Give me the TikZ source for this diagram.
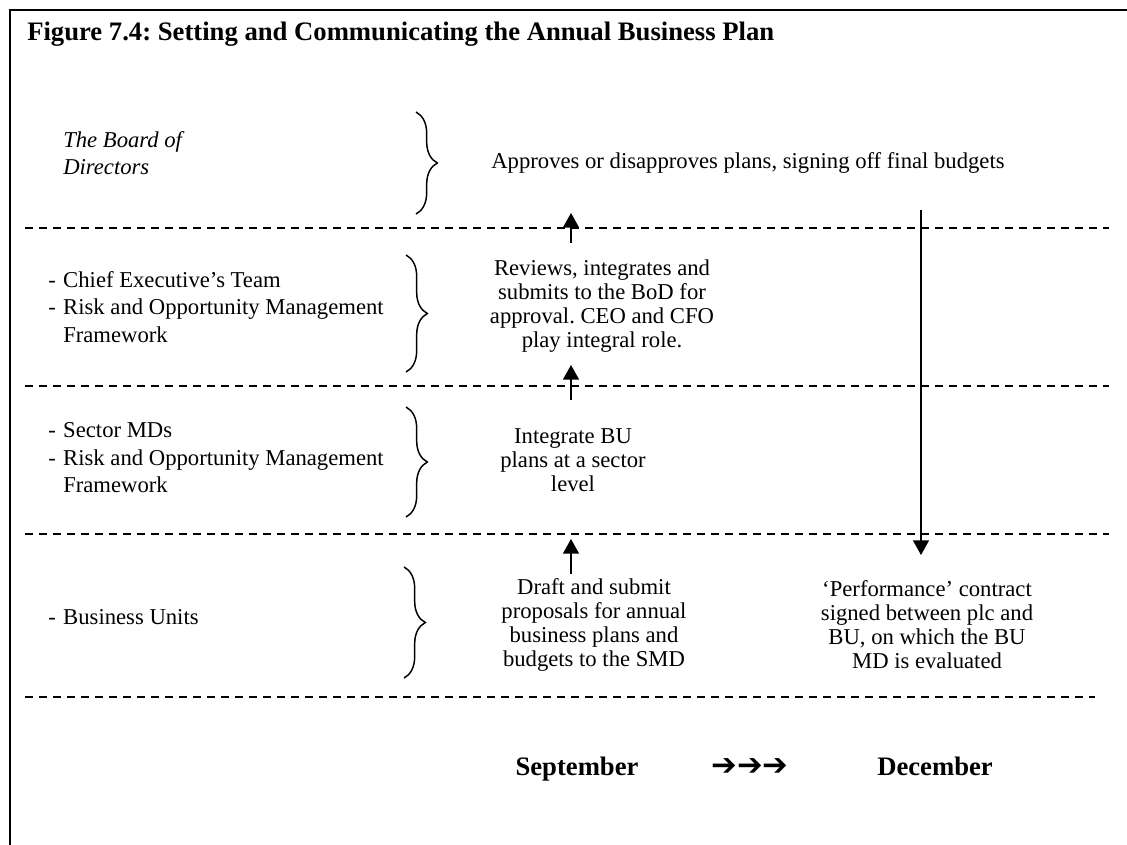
\documentclass[tikz,border=0pt]{standalone}
\usepackage{fontspec}
\setmainfont{Liberation Serif}
\newfontfamily\symfont{DejaVu Sans}
\usetikzlibrary{arrows.meta, decorations.pathreplacing, positioning}

\newcommand{\itm}{\makebox[11.25pt][l]{-}}
\newcommand{\noitm}{\hspace*{11.25pt}}
\frenchspacing

\begin{document}
\begin{tikzpicture}[
  x=0.75pt, y=-0.75pt,
  every node/.style={font=\fontsize{17}{18}\selectfont, inner sep=0pt},
  body/.style={align=center},
  role/.style={anchor=west, align=left, font=\fontsize{17}{20.6}\selectfont},
  head/.style={font=\fontsize{20}{24}\selectfont\bfseries},
  sepline/.style={dash pattern=on 6pt off 4.5pt, line width=1.3pt},
  brc/.style={decorate, decoration={brace, amplitude=16pt}, line width=1.1pt},
  arr/.style={-{Triangle[length=11pt, width=12pt]}, line width=1.1pt},
]
\useasboundingbox (0,0) rectangle (1127,845);

% Frame
\draw[line width=1.6pt] (10,845) -- (10,10) -- (1127,10);

% Title
\node[head, anchor=base west] (title) at (27,41) {Figure 7.4: Setting and Communicating the Annual Business Plan};

% Separators
\foreach \yy/\xe in {228/1109, 386/1109, 534/1109, 697/1095}
  \draw[sepline] (25,\yy) -- (\xe,\yy);

% Levels
\node[role, font=\fontsize{17}{20.6}\selectfont\itshape] (bod) at (63,153) {The Board of\\Directors};
\node[role] (cet) at (48,307) {\itm Chief Executive’s Team\\\itm Risk and Opportunity Management\\\noitm Framework};
\node[role] (smd) at (48,458) {\itm Sector MDs\\\itm Risk and Opportunity Management\\\noitm Framework};
\node[role] (bu) at (48,617) {\itm Business Units};

% Braces
\draw[brc] (416,112) -- (416,214);
\draw[brc] (406,255) -- (406,372);
\draw[brc] (406,407) -- (406,517);
\draw[brc] (404,567) -- (404,678);

% Activities
\node[body, anchor=base] (bodtask) at (748,168) {Approves or disapproves plans, signing off final budgets};
\node[body] (cettask) at (602,306) {Reviews, integrates and\\submits to the BoD for\\approval. CEO and CFO\\play integral role.};
\node[body] (smdtask) at (573,460) {Integrate BU\\plans at a sector\\level};
\node[body] (butask) at (594,625) {Draft and submit\\proposals for annual\\business plans and\\budgets to the SMD};
\node[body] (perf) at (927,625) {‘Performance’ contract\\signed between plc and\\BU, on which the BU\\MD is evaluated};

% Arrows
\coordinate (up1s) at (571,243);
\coordinate (up1e) at (571,213);
\coordinate (up2s) at (571,400);
\coordinate (up2e) at (571,365);
\coordinate (up3s) at (571,574);
\coordinate (up3e) at (571,539);
\coordinate (dns) at (921,210);
\coordinate (dne) at (921,555);
\draw[arr] (up1s) -- (up1e);
\draw[arr] (up2s) -- (up2e);
\draw[arr] (up3s) -- (up3e);
\draw[arr] (dns) -- (dne);

% Timeline
\node[head, anchor=base] (sept) at (577,775) {September};
\node[anchor=base, font=\fontsize{23}{24}\symfont\bfseries] (flow) at (750,775) {➔➔➔};
\node[head, anchor=base] (dec) at (935,775) {December};

\end{tikzpicture}
\end{document}
